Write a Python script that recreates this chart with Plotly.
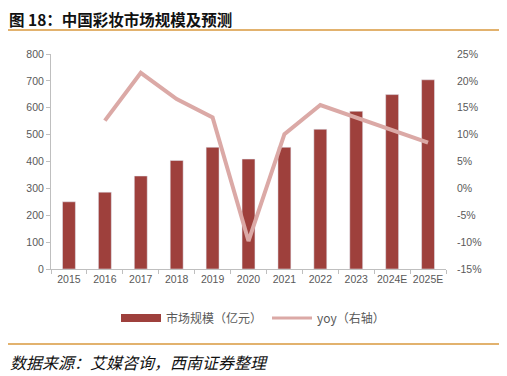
import plotly.graph_objects as go

years = ["2015", "2016", "2017", "2018", "2019", "2020", "2021", "2022", "2023", "2024E", "2025E"]
market_size = [250, 286, 346, 404, 453, 409, 453, 520, 587, 649, 704]
yoy_years = ["2016", "2017", "2018", "2019", "2020", "2021", "2022", "2023", "2024E", "2025E"]
yoy = [12.6, 21.5, 16.6, 13.2, -9.8, 10.1, 15.5, 13.2, 10.8, 8.5]
left_ticks = [0, 100, 200, 300, 400, 500, 600, 700, 800]
right_ticks = [-15, -10, -5, 0, 5, 10, 15, 20, 25]
right_labels = ["-15%", "-10%", "-5%", "0%", "5%", "10%", "15%", "20%", "25%"]

BAR = "#9E403C"
LINE = "#DBA9A6"
GOLD = "#E2B26E"
TXT = "#595959"
FONT = "Noto Sans CJK SC"
TICKFONT = dict(family="Liberation Sans", size=10.5, color=TXT)

# page body has an 8px margin, so figure is sized/offset to compensate
W, H = 499, 368
L, T, R, B = 43, 46, 61, 107
PW, PH = W - L - R, H - T - B


def px(x):
    return (x - L) / PW


def py(y):
    return (H - B - y) / PH


fig = go.Figure()
fig.add_trace(go.Bar(x=years, y=market_size, marker_color=BAR, width=0.36,
                     showlegend=False, yaxis="y"))
fig.add_trace(go.Scatter(x=yoy_years, y=yoy, mode="lines", line=dict(color=LINE, width=4),
                         showlegend=False, yaxis="y2"))
# legend entries
fig.add_trace(go.Scatter(x=[None], y=[None], mode="lines", line=dict(color=BAR, width=8),
                         name="市场规模（亿元）"))
fig.add_trace(go.Scatter(x=[None], y=[None], mode="lines", line=dict(color=LINE, width=3),
                         name="yoy（右轴）"))

fig.update_layout(
    width=W, height=H,
    margin=dict(l=L, r=R, t=T, b=B, autoexpand=False),
    plot_bgcolor="white", paper_bgcolor="white",
    font=dict(family=FONT, size=11, color=TXT),
    xaxis=dict(type="category", categoryorder="array", categoryarray=years,
               showline=True, linecolor="#BFBFBF", linewidth=1, automargin=False,
               ticks="outside", tickson="boundaries", ticklen=4, tickcolor="#BFBFBF",
               showgrid=False, tickangle=0, tickfont=TICKFONT),
    yaxis=dict(range=[0, 800], tickvals=left_ticks, showline=True, linecolor="#BFBFBF",
               ticks="outside", ticklen=4, tickcolor="#BFBFBF", showgrid=False,
               automargin=False, zeroline=False, tickfont=TICKFONT),
    yaxis2=dict(range=[-15, 25], tickmode="array", tickvals=right_ticks, ticktext=right_labels,
                overlaying="y", side="right", showline=False, showgrid=False, zeroline=False,
                automargin=False, ticks="", ticklabelstandoff=10, tickfont=TICKFONT),
    legend=dict(orientation="h", x=px(245), xanchor="center", y=py(310), yanchor="middle",
                font=dict(size=12, color=TXT), itemwidth=40, traceorder="normal",
                bgcolor="rgba(0,0,0,0)"),
)

fig.add_annotation(text="<b>图 18：中国彩妆市场规模及预测</b>", xref="paper", yref="paper",
                   x=px(0), y=py(10.5), xanchor="left", yanchor="middle", borderpad=0,
                   showarrow=False, font=dict(size=15.5, color="#111111", family=FONT))
fig.add_annotation(text="<i>数据来源：艾媒咨询，西南证券整理</i>", xref="paper", yref="paper",
                   x=px(0), y=py(354), xanchor="left", yanchor="middle",
                   showarrow=False, font=dict(size=16, color="#111111", family=FONT))
fig.add_shape(type="line", xref="paper", yref="paper",
              x0=px(-2), x1=px(492), y0=py(22), y1=py(22),
              line=dict(color=GOLD, width=2))
fig.add_shape(type="line", xref="paper", yref="paper",
              x0=px(-8), x1=px(493), y0=py(336), y1=py(336),
              line=dict(color=GOLD, width=2))

fig.write_html("out.html")
